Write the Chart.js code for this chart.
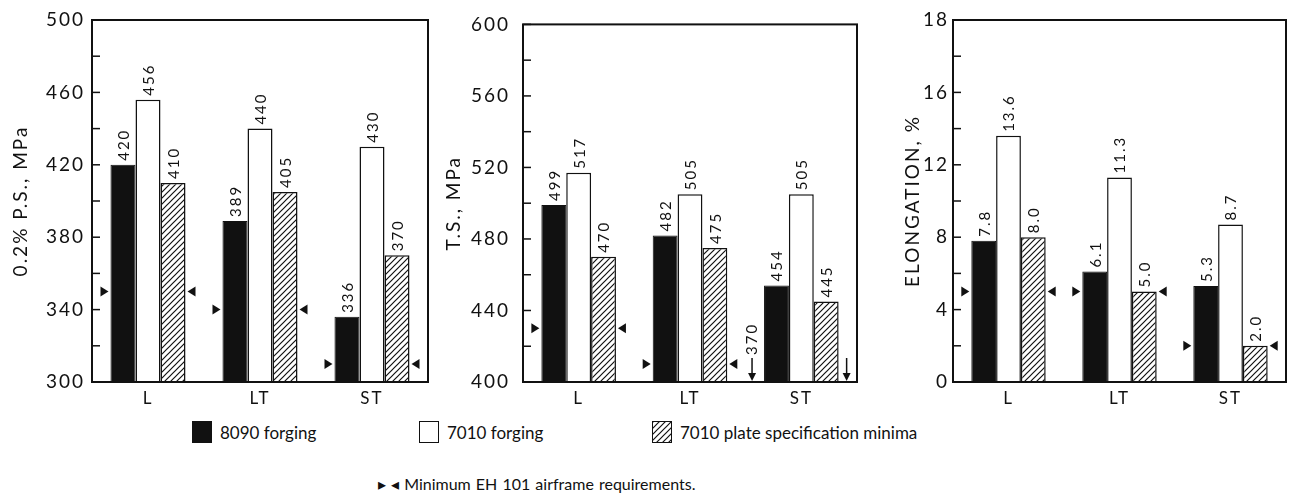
<!DOCTYPE html>
<html>
<head>
<meta charset="utf-8">
<script src="https://cdn.jsdelivr.net/npm/chart.js@4.4.0/dist/chart.umd.min.js"></script>
<style>
  body { margin:0; background:#fff; width:1292px; height:504px; position:relative; overflow:hidden; font-family:Lato, sans-serif; color:#111; }
  canvas { position:absolute; top:0; }
  .key { position:absolute; top:421px; font-size:17px; display:flex; align-items:center; }
  .sw { display:inline-block; width:20px; height:22px; margin-right:8px; box-sizing:border-box; border:1.5px solid #111; }
  #note { position:absolute; left:378px; top:474px; font-size:16px; word-spacing:1px; }
</style>
</head>
<body>
<canvas id="ps" width="440" height="410" style="left:0px"></canvas>
<canvas id="ts" width="440" height="410" style="left:430px"></canvas>
<canvas id="el" width="432" height="410" style="left:860px"></canvas>

<div class="key" style="left:192px"><span class="sw" style="background:#111"></span>8090 forging</div>
<div class="key" style="left:419px"><span class="sw" style="background:#fff"></span>7010 forging</div>
<div class="key" style="left:652px"><span class="sw" id="hatchKey"></span>7010 plate specification minima</div>
<div id="note">&#9656; &#9666; Minimum EH 101 airframe requirements.</div>

<script>
// categories (test directions)
var categories = ['L', 'LT', 'ST'];
var seriesNames = ['8090 forging', '7010 forging', '7010 plate specification minima'];

// 0.2% proof stress, MPa
var ps8090 = [420, 389, 336];
var ps7010 = [456, 440, 430];
var psPlate = [410, 405, 370];
var psMin = [350, 340, 310];
var psTickVals = [300, 340, 380, 420, 460, 500];
var psTickText = ['300', '340', '380', '420', '460', '500'];

// tensile strength, MPa
var ts8090 = [499, 482, 454];
var ts7010 = [517, 505, 505];
var tsPlate = [470, 475, 445];
var tsMin = [430, 410, 370];
var tsTickVals = [400, 440, 480, 520, 560, 600];
var tsTickText = ['400', '440', '480', '520', '560', '600'];

// elongation, %
var el8090 = [7.8, 6.1, 5.3];
var el7010 = [13.6, 11.3, 8.7];
var elPlate = [8.0, 5.0, 2.0];
var elMin = [5, 5, 2];
// top of the scale is printed "18" in the original figure
var elTickVals = [0, 4, 8, 12, 16, 20];
var elTickText = ['0', '4', '8', '12', '16', '18'];

// hatch tile for the plate bars
var tile = document.createElement('canvas');
tile.width = 6; tile.height = 6;
var tc = tile.getContext('2d');
tc.fillStyle = '#fff';
tc.fillRect(0, 0, 6, 6);
tc.strokeStyle = '#111';
tc.lineWidth = 1.2;
tc.beginPath();
tc.moveTo(0, 6); tc.lineTo(6, 0);
tc.moveTo(-1, 1); tc.lineTo(1, -1);
tc.moveTo(5, 7); tc.lineTo(7, 5);
tc.stroke();
document.getElementById('hatchKey').style.background = 'url(' + tile.toDataURL() + ')';

// draws labels, minimum markers, frame and inner ticks
var extras = {
  id: 'extras',
  beforeDraw: function(chart) {
    // wider lettering, closer to the original typeface
    chart.ctx.letterSpacing = '2px';
  },
  afterDatasetsDraw: function(chart, args, o) {
    var ctx = chart.ctx, a = chart.chartArea, y = chart.scales.y;
    ctx.save();
    ctx.fillStyle = '#111';
    ctx.strokeStyle = '#111';

    // value labels above bars
    ctx.font = '15px Lato';
    chart.data.datasets.forEach(function(ds, d) {
      chart.getDatasetMeta(d).data.forEach(function(bar, i) {
        ctx.save();
        ctx.translate(bar.x + 1, bar.y - 4);
        ctx.rotate(-Math.PI / 2);
        ctx.textAlign = 'left';
        ctx.textBaseline = 'middle';
        ctx.fillText(o.fmt(ds.data[i]), 0, 0);
        ctx.restore();
      });
    });

    // minimum requirement markers
    var m0 = chart.getDatasetMeta(0).data, m2 = chart.getDatasetMeta(2).data;
    function tri(x, py, dir) {
      ctx.beginPath();
      ctx.moveTo(x, py);
      ctx.lineTo(x - 8 * dir, py - 5);
      ctx.lineTo(x - 8 * dir, py + 5);
      ctx.closePath();
      ctx.fill();
    }
    function arrow(x) {
      ctx.lineWidth = 1.5;
      ctx.beginPath();
      ctx.moveTo(x, a.bottom - 24);
      ctx.lineTo(x, a.bottom - 6);
      ctx.stroke();
      ctx.beginPath();
      ctx.moveTo(x - 4, a.bottom - 9);
      ctx.lineTo(x + 4, a.bottom - 9);
      ctx.lineTo(x, a.bottom - 1);
      ctx.closePath();
      ctx.fill();
    }
    o.mins.forEach(function(v, i) {
      var xl = m0[i].x - m0[i].width / 2 - 2;
      var xr = m2[i].x + m2[i].width / 2 + 2;
      if (v >= y.min) {
        var py = y.getPixelForValue(v);
        tri(xl, py, 1);
        tri(xr, py, -1);
      } else {
        arrow(xl - 10);
        arrow(xr + 6);
        ctx.save();
        ctx.font = '15px Lato';
        ctx.translate(xl - 10, a.bottom - 27);
        ctx.rotate(-Math.PI / 2);
        ctx.textAlign = 'left';
        ctx.textBaseline = 'middle';
        ctx.fillText(String(v), 0, 0);
        ctx.restore();
      }
    });

    // frame
    ctx.lineWidth = 2;
    ctx.strokeRect(a.left, a.top, a.right - a.left, a.bottom - a.top);

    // inward ticks
    ctx.lineWidth = 1.5;
    y.ticks.forEach(function(t) {
      var py = y.getPixelForValue(t.value);
      ctx.beginPath();
      ctx.moveTo(a.left, py);
      ctx.lineTo(a.left + 8, py);
      ctx.stroke();
    });
    ctx.restore();
  }
};

function makePanel(id, p) {
  var ctx = document.getElementById(id);
  var hatch = ctx.getContext('2d').createPattern(tile, 'repeat');
  var config = {
    type: 'bar',
    data: {
      labels: categories,
      datasets: [{
        label: seriesNames[0],
        data: p.a,
        backgroundColor: '#111',
        borderColor: '#111',
        borderWidth: 1
      }, {
        label: seriesNames[1],
        data: p.b,
        backgroundColor: '#fff',
        borderColor: '#111',
        borderWidth: 1.5
      }, {
        label: seriesNames[2],
        data: p.c,
        backgroundColor: hatch,
        borderColor: '#111',
        borderWidth: 1.5
      }]
    },
    options: {
      responsive: false,
      animation: false,
      categoryPercentage: 0.67,
      barPercentage: 1,
      layout: { padding: { left: p.padL, right: p.padR, top: 20, bottom: 0 } },
      plugins: {
        legend: { display: false },
        tooltip: { enabled: false },
        extras: { mins: p.mins, fmt: p.fmt }
      },
      scales: {
        x: {
          grid: { display: false, drawTicks: false },
          border: { display: false },
          ticks: { color: '#111', font: { family: 'Lato', size: 17 }, padding: 6 },
          afterFit: function(s) { s.height = 28; }
        },
        y: {
          min: p.min,
          max: p.max,
          grid: { display: false, drawTicks: false },
          border: { display: false },
          ticks: {
            stepSize: p.step,
            autoSkip: false,
            padding: p.tickPad,
            color: '#111',
            font: { family: 'Lato', size: 19 },
            callback: function(v) {
              var k = p.tickVals.indexOf(v);
              return k >= 0 ? p.tickText[k] : '';
            }
          },
          title: {
            display: true,
            text: p.title,
            color: '#111',
            font: { family: 'Lato', size: 19 },
            padding: { top: 4, bottom: 0 }
          },
          afterFit: function(s) { s.width = p.yWidth; }
        }
      }
    },
    plugins: [extras]
  };
  return new Chart(ctx, config);
}

makePanel('ps', {
  a: ps8090, b: ps7010, c: psPlate, mins: psMin,
  min: 300, max: 500, step: 20, tickVals: psTickVals, tickText: psTickText,
  title: '0.2% P.S., MPa', padL: 5, padR: 12, yWidth: 87, tickPad: 7,
  fmt: function(v) { return String(v); }
});
makePanel('ts', {
  a: ts8090, b: ts7010, c: tsPlate, mins: tsMin,
  min: 400, max: 600, step: 20, tickVals: tsTickVals, tickText: tsTickText,
  title: 'T.S., MPa', padL: 8, padR: 13, yWidth: 85, tickPad: 13,
  fmt: function(v) { return String(v); }
});
makePanel('el', {
  a: el8090, b: el7010, c: elPlate, mins: elMin,
  min: 0, max: 20, step: 2, tickVals: elTickVals, tickText: elTickText,
  title: 'ELONGATION, %', padL: 37, padR: 6, yWidth: 56, tickPad: 4,
  fmt: function(v) { return v.toFixed(1); }
});
</script>
</body>
</html>
